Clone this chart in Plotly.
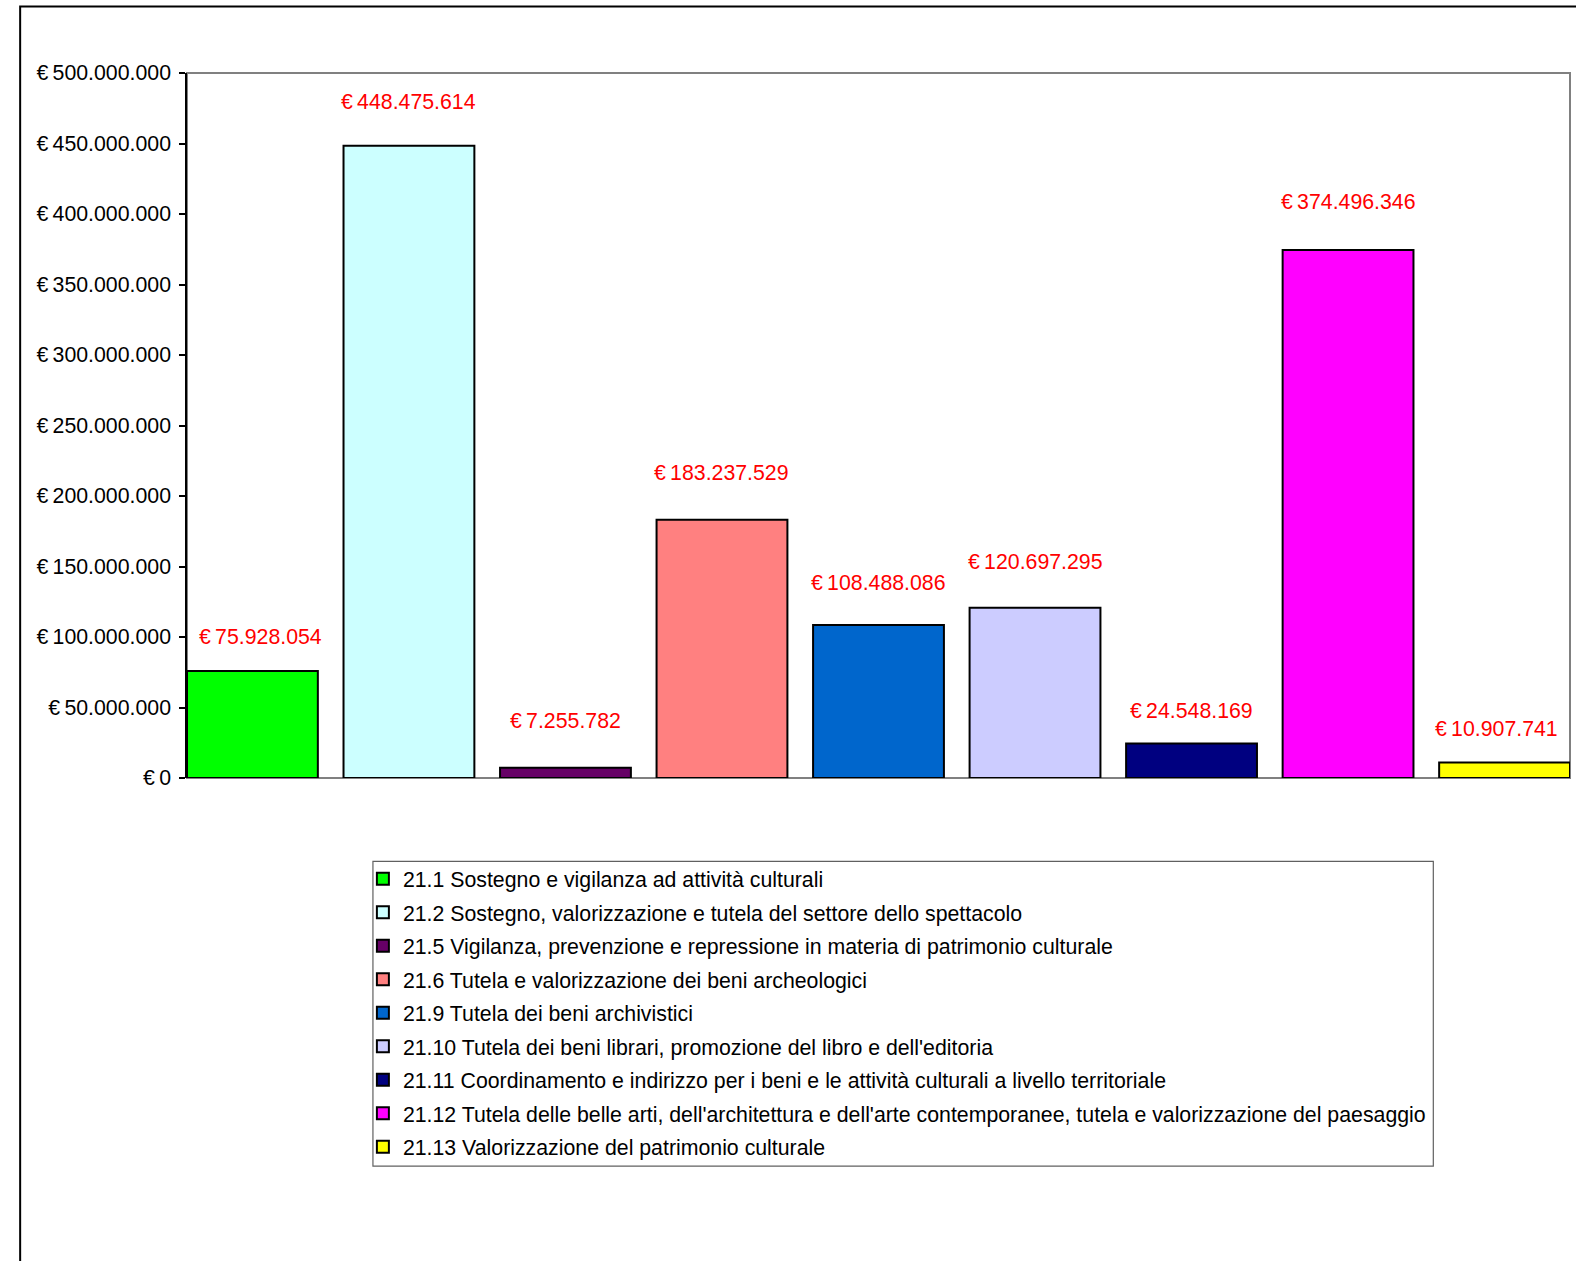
import plotly.graph_objects as go

categories = [
    "21.1 Sostegno e vigilanza ad attività culturali",
    "21.2 Sostegno, valorizzazione e tutela del settore dello spettacolo",
    "21.5 Vigilanza, prevenzione e repressione in materia di patrimonio culturale",
    "21.6 Tutela e valorizzazione dei beni archeologici",
    "21.9 Tutela dei beni archivistici",
    "21.10 Tutela dei beni librari, promozione del libro e dell'editoria",
    "21.11 Coordinamento e indirizzo per i beni e le attività culturali a livello territoriale",
    "21.12 Tutela delle belle arti, dell'architettura e dell'arte contemporanee, tutela e valorizzazione del paesaggio",
    "21.13 Valorizzazione del patrimonio culturale",
]
values = [75928054, 448475614, 7255782, 183237529, 108488086, 120697295, 24548169, 374496346, 10907741]
colors = ["#00FF00", "#CCFFFF", "#660066", "#FF8080", "#0066CC", "#CCCCFF", "#000080", "#FF00FF", "#FFFF00"]
# offsets (px) of each value label from the top centre of its bar, as placed in the original
label_shift = [34, 43, 47, 46, 42, 46, 32, 48, 33]
label_xshift = [8, 0, 0, 0, 0, 0, 0, 0, -8]

K = 1584 / 1576  # compensation for the capture scaling
W, H = 1584, 1267
L, R, T, B = 186 * K, 1562 * K, 73 * K, 774 * K
pw, ph = R - L, B - T

def px(x):
    return (x * K - L) / pw

def py(y):
    return (B - y * K) / ph

FONT = "Liberation Sans, Arial, sans-serif"
FS = 21.2 * K
bar_w = 0.836
EURO = "€\u2009"

fig = go.Figure()
for i, (cat, val, col) in enumerate(zip(categories, values, colors)):
    fig.add_trace(go.Bar(
        x=[cat], y=[val], name=cat, width=bar_w,
        marker=dict(color=col, line=dict(color="#000000", width=2)),
        legendgroup=f"g{i}", hoverinfo="y",
    ))
    fig.add_annotation(
        x=cat, y=val, xref="x", yref="y",
        text=EURO + f"{val:,}".replace(",", "."),
        showarrow=False, yanchor="middle",
        yshift=label_shift[i] * K, xshift=label_xshift[i] * K,
        font=dict(family=FONT, size=FS, color="#FF0000"),
    )

fig.update_layout(
    width=W, height=H,
    margin=dict(l=L, r=W - R, t=T, b=H - B, pad=0),
    paper_bgcolor="white", plot_bgcolor="rgba(0,0,0,0)",
    barmode="overlay",
    separators=",.",
    font=dict(family=FONT, size=FS, color="#000000"),
    showlegend=True,
    legend=dict(
        x=px(361), xanchor="left", y=py(854), yanchor="top",
        bgcolor="rgba(0,0,0,0)", borderwidth=0,
        tracegroupgap=2.8, font=dict(family=FONT, size=FS, color="#000000"),
        traceorder="grouped",
    ),
    xaxis=dict(
        type="category", range=[-bar_w / 2, len(categories) - 1 + bar_w / 2],
        showticklabels=False, ticks="", showgrid=False, showline=False, zeroline=False,
    ),
    yaxis=dict(
        range=[0, 500000000], dtick=50000000, tick0=0,
        tickprefix=EURO, tickformat=",d",
        ticks="outside", ticklen=6, tickwidth=1.5, tickcolor="#000000",
        ticklabelstandoff=4,
        showgrid=False, zeroline=False,
        showline=True, linecolor="#000000", linewidth=1.5,
        tickfont=dict(family=FONT, size=FS, color="#000000"),
    ),
    shapes=[
        dict(type="rect", xref="paper", yref="paper", x0=0, x1=1, y0=0, y1=1,
             line=dict(color="#808080", width=2), layer="below"),
        dict(type="rect", xref="paper", yref="paper",
             x0=px(20), x1=px(1590), y0=py(1275), y1=py(7),
             line=dict(color="#000000", width=2), layer="below"),
        dict(type="rect", xref="paper", yref="paper",
             x0=px(371), x1=px(1426), y0=py(1160), y1=py(857),
             line=dict(color="#606060", width=1.2), layer="below"),
    ],
)

fig.write_html(
    "out.html",
    config={"displayModeBar": False},
    post_script=(
        "document.body.style.margin='0';"
        "document.documentElement.style.overflow='hidden';"
        "document.body.style.overflow='hidden';"
        "var d=document.getElementById('{plot_id}');"
        "d.style.position='fixed';d.style.left='0px';d.style.top='0px';"
    ),
)
